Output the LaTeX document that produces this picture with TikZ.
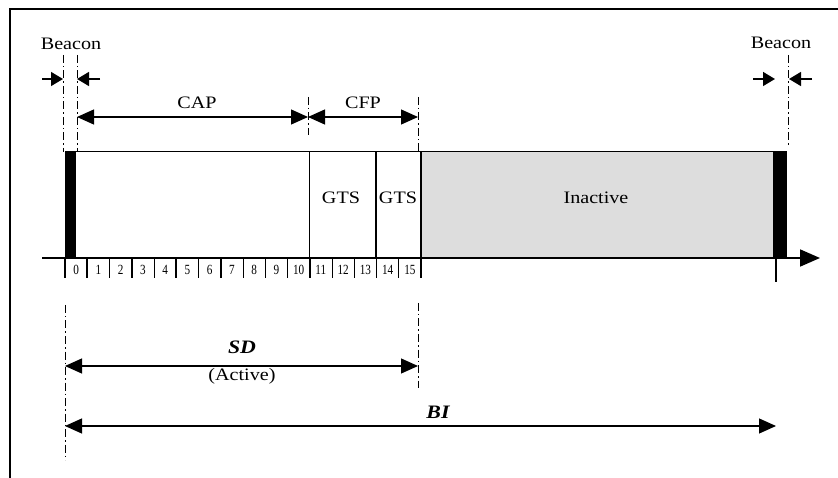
\documentclass[tikz,border=0pt]{standalone}
\usepackage{fontspec}
\setmainfont{Liberation Serif}[FakeStretch=1.15]
\newfontfamily\numfont{Liberation Serif}[FakeStretch=0.8]
\usetikzlibrary{arrows.meta}
\definecolor{inact}{RGB}{221,221,221}
\begin{document}
\begin{tikzpicture}[x=1pt,y=-1pt,
  lbl/.style={inner sep=0pt, font=\fontsize{17.5}{19}\selectfont},
  numlbl/.style={inner sep=0pt, font=\numfont\fontsize{14}{15}\selectfont},
  emlbl/.style={inner sep=0pt, font=\fontsize{19}{21}\selectfont\bfseries\itshape},
  bigtip/.style={line width=1.2pt, {Triangle[length=17pt,width=15pt]}-{Triangle[length=17pt,width=15pt]}},
  smalltip/.style={line width=1.5pt, -{Triangle[length=12pt,width=14pt]}},
  dashdot/.style={line width=0.9pt, dash pattern=on 8pt off 3pt on 1.5pt off 3pt},
  thindiv/.style={line width=0.8pt},
  thickdiv/.style={line width=1.7pt}
]
\useasboundingbox (0,0) rectangle (838,478);
% frame
\draw[line width=2.5pt] (838,9) -- (10,9) -- (10,478);

% coordinates
\coordinate (b0a) at (63,55);  \coordinate (b0b) at (63,152);
\coordinate (b1a) at (77,55);  \coordinate (b1b) at (77,152);
\coordinate (capL) at (77,117); \coordinate (capR) at (308,117); \coordinate (cfpR) at (418,117);
\coordinate (d1a) at (308,97); \coordinate (d1b) at (308,135);
\coordinate (d2a) at (418,97); \coordinate (d2b) at (418,152);
\coordinate (rb) at (788,55); \coordinate (rbb) at (788,145);
\coordinate (axL) at (42,258); \coordinate (axR) at (820,258);

% beacon guides
\draw[dashdot] (b0a) -- (b0b);
\draw[dashdot] (b1a) -- (b1b);
\draw[dashdot] (d1a) -- (d1b);
\draw[dashdot] (d2a) -- (d2b);
\draw[dashdot] (rb) -- (rbb);

% labels top
\node[lbl] (beaconL) at (71,44) {Beacon};
\node[lbl] (beaconR) at (781,43) {Beacon};
\node[lbl] (cap) at (197,103) {CAP};
\node[lbl] (cfp) at (363,103) {CFP};

% small beacon arrows
\coordinate (sl1) at (42,79); \coordinate (sl2) at (63,79);
\coordinate (sr1) at (100,79); \coordinate (sr2) at (77,79);
\draw[smalltip] (sl1) -- (sl2);
\draw[smalltip] (sr1) -- (sr2);
\coordinate (tl1) at (753,79); \coordinate (tl2) at (775,79);
\coordinate (tr1) at (812,79); \coordinate (tr2) at (789,79);
\draw[smalltip] (tl1) -- (tl2);
\draw[smalltip] (tr1) -- (tr2);

% CAP / CFP
\draw[bigtip] (capL) -- (capR);
\draw[bigtip] (capR) -- (cfpR);

% superframe bar
\fill[inact] (421,152) rectangle (773,258);
\fill[black] (65,152) rectangle (76,258);
\fill[black] (773,152) rectangle (787,258);
\draw[line width=1pt] (65,152) -- (787,152);
\draw[thindiv] (309,152) -- (309,258);
\draw[thickdiv] (376,152) -- (376,258);
\draw[thickdiv] (421,152) -- (421,258);
\node[lbl] (gts1) at (341,198) {GTS};
\node[lbl] (gts2) at (398,198) {GTS};
\node[lbl] (inactive) at (596,198) {Inactive};

% time axis
\draw[line width=1.8pt, -{Triangle[length=20pt,width=17pt]}] (axL) -- (axR);
\draw[line width=1.2pt] (776,258) -- (776,282);

% slots
\foreach \i in {0,...,15} {
  \node[numlbl] (s\i) at ({65+22.25*\i+11.1},269.5) {\i};
}
\foreach \i in {0,...,16} {
  \draw[thindiv] ({65+22.25*\i},258) -- ++(0,20);
}
\foreach \i in {0,1,2,3,5,7,11,14,16} {
  \draw[thickdiv] ({65+22.25*\i},258) -- ++(0,20);
}

% SD / BI
\coordinate (sdLa) at (65,305); \coordinate (sdLb) at (65,460);
\coordinate (sdRa) at (418,303); \coordinate (sdRb) at (418,388);
\draw[dashdot] (sdLa) -- (sdLb);
\draw[dashdot] (sdRa) -- (sdRb);
\coordinate (sdL) at (65,366); \coordinate (sdR) at (418,366);
\draw[bigtip] (sdL) -- (sdR);
\node[emlbl] (sd) at (242,347) {SD};
\node[lbl] (active) at (242,376) {(Active)};
\coordinate (biL) at (65,426); \coordinate (biR) at (776,426);
\draw[bigtip] (biL) -- (biR);
\node[emlbl] (bi) at (438,412) {BI};
\end{tikzpicture}
\end{document}
